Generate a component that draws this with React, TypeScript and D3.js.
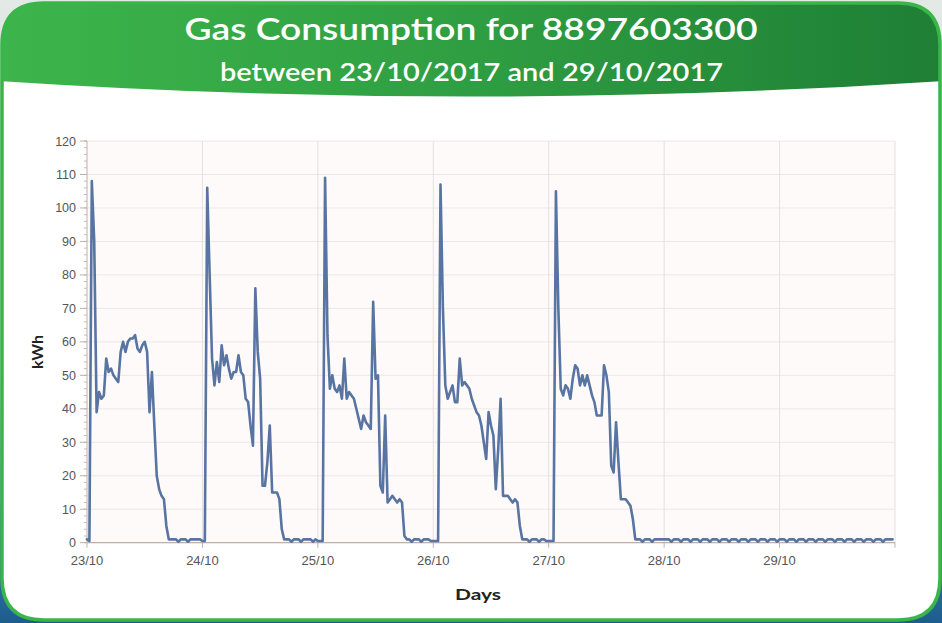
import React from "react";
import * as d3 from "d3";

const TITLE = "Gas Consumption for 8897603300";
const SUBTITLE = "between 23/10/2017 and 29/10/2017";
const DAY_LABELS = ["23/10", "24/10", "25/10", "26/10", "27/10", "28/10", "29/10"];
const Y_TICKS = [0, 10, 20, 30, 40, 50, 60, 70, 80, 90, 100, 110, 120];
const POINTS_PER_DAY = 48; // half-hourly readings

const day23 = [1, 0.5, 108, 90, 39, 45, 43, 44, 55, 51, 52, 50, 49, 48, 57, 60, 57, 60, 61, 61, 62, 58, 57, 59, 60, 57, 39, 51, 35, 20, 16, 14, 13, 5, 1, 1, 1, 1, 0.3, 1, 1, 1, 0.3, 1, 1, 1, 1, 1];
const day24 = [0.5, 0.5, 106, 80, 55, 47, 54, 48, 59, 53, 56, 52, 49, 51, 51, 56, 51, 50, 43, 42, 35, 29, 76, 57, 49, 17, 17, 24, 35, 15, 15, 15, 13, 4, 1, 1, 1, 0.3, 1, 1, 1, 0.3, 1, 1, 1, 1, 0.3, 1];
const day25 = [0.5, 0.5, 0.5, 109, 62, 46, 50, 46, 45, 47, 43, 55, 43, 45, 44, 43, 40, 37, 34, 38, 36, 35, 34, 72, 49, 50, 17, 15, 38, 12, 13, 14, 13, 12, 13, 12, 2, 1, 1, 0.3, 1, 1, 1, 0.3, 1, 1, 1, 0.5];
const day26 = [0.5, 0.5, 0.5, 107, 70, 47, 43, 45, 47, 42, 42, 55, 47, 48, 47, 46, 43, 41, 39, 38, 35, 30, 25, 39, 35, 32, 16, 28, 43, 14, 14, 14, 13, 12, 13, 12, 5, 1, 1, 1, 0.3, 1, 1, 1, 0.3, 1, 1, 0.5];
const day27 = [0.5, 0.5, 0.5, 105, 70, 46, 44, 47, 46, 43, 49, 53, 52, 47, 50, 47, 50, 47, 44, 42, 38, 38, 38, 53, 50, 45, 23, 21, 36, 24, 13, 13, 13, 12, 11, 7, 1, 1, 1, 0.3, 1, 1, 1, 0.3, 1, 1, 1, 1];
const day28 = [1, 1, 1, 0.3, 1, 1, 1, 0.3, 1, 1, 1, 0.3, 1, 1, 1, 0.3, 1, 1, 1, 0.3, 1, 1, 1, 0.3, 1, 1, 1, 0.3, 1, 1, 1, 0.3, 1, 1, 1, 0.3, 1, 1, 1, 0.3, 1, 1, 1, 0.3, 1, 1, 1, 0.3];
const day29 = [1, 1, 1, 0.3, 1, 1, 1, 0.3, 1, 1, 1, 0.3, 1, 1, 1, 0.3, 1, 1, 1, 0.3, 1, 1, 1, 0.3, 1, 1, 1, 0.3, 1, 1, 1, 0.3, 1, 1, 1, 0.3, 1, 1, 1, 0.3, 1, 1, 1, 0.3, 1, 1, 1, 1];

const series = [...day23, ...day24, ...day25, ...day26, ...day27, ...day28, ...day29];

const W = 942;
const H = 623;
const PLOT = { left: 87, right: 895, top: 141, bottom: 542.7 };

export default function App() {
  const x = d3.scaleLinear().domain([0, DAY_LABELS.length]).range([PLOT.left, PLOT.right]);
  const y = d3.scaleLinear().domain([0, 120]).range([PLOT.bottom, PLOT.top]);
  const line = d3
    .line<number>()
    .x((_, i) => x(i / POINTS_PER_DAY))
    .y((d) => y(d));
  const minorTicks = d3.range(0, 121, 2);
  const dayTicks = d3.range(0, DAY_LABELS.length + 1);

  const cardPath = (() => {
    const x0 = 2, y0 = 3, x1 = 940, y1 = 620, r = 42;
    return `M${x0 + r},${y0} H${x1 - r} Q${x1},${y0} ${x1},${y0 + r} V${y1 - r} Q${x1},${y1} ${x1 - r},${y1} H${x0 + r} Q${x0},${y1} ${x0},${y1 - r} V${y0 + r} Q${x0},${y0} ${x0 + r},${y0} Z`;
  })();

  return (
    <svg
      width={W}
      height={H}
      viewBox={`0 0 ${W} ${H}`}
      style={{ position: "absolute", left: 0, top: 0, display: "block" }}
    >
      <defs>
        <linearGradient id="bg" x1="0" y1="0" x2="0" y2="1">
          <stop offset="0" stopColor="#e3e9e4" />
          <stop offset="0.6" stopColor="#c9d6d2" />
          <stop offset="0.85" stopColor="#3d80ad" />
          <stop offset="1" stopColor="#1c5d8e" />
        </linearGradient>
        <linearGradient id="hdr" x1="0" y1="0" x2="1" y2="0">
          <stop offset="0" stopColor="#3db54b" />
          <stop offset="0.5" stopColor="#2f9e42" />
          <stop offset="1" stopColor="#1e7f35" />
        </linearGradient>
        <clipPath id="cardClip">
          <path d={cardPath} />
        </clipPath>
      </defs>

      <rect x={0} y={0} width={W} height={H} fill="url(#bg)" />
      <path d={cardPath} fill="#ffffff" />
      <g clipPath="url(#cardClip)">
        <path d={`M0,0 H${W} V81 Q${W / 2},112 0,81 Z`} fill="url(#hdr)" />
      </g>
      <path d={cardPath} fill="none" stroke="#3ab54a" strokeWidth={3.5} />

      <text
        x={W / 2}
        y={39.5}
        textAnchor="middle"
        fill="#ffffff"
        fontFamily="Lato, 'Open Sans', sans-serif"
        fontWeight={600}
        fontSize={30}
        textLength={573}
        lengthAdjust="spacingAndGlyphs"
      >
        {TITLE}
      </text>
      <text
        x={471.5}
        y={80.5}
        textAnchor="middle"
        fill="#ffffff"
        fontFamily="Lato, 'Open Sans', sans-serif"
        fontWeight={600}
        fontSize={25}
        textLength={503}
        lengthAdjust="spacingAndGlyphs"
      >
        {SUBTITLE}
      </text>

      {/* plot background */}
      <rect
        x={PLOT.left}
        y={PLOT.top}
        width={PLOT.right - PLOT.left}
        height={PLOT.bottom - PLOT.top}
        fill="#fefafa"
      />
      {/* horizontal grid */}
      {Y_TICKS.map((t) => (
        <line
          key={`hg${t}`}
          x1={PLOT.left}
          x2={PLOT.right}
          y1={y(t)}
          y2={y(t)}
          stroke="#ece8e8"
          strokeWidth={1}
        />
      ))}
      {/* vertical grid */}
      {dayTicks.slice(1).map((d) => (
        <line
          key={`vg${d}`}
          x1={x(d)}
          x2={x(d)}
          y1={PLOT.top}
          y2={PLOT.bottom}
          stroke="#e6e0e0"
          strokeWidth={1}
        />
      ))}

      {/* y axis */}
      <line x1={PLOT.left} x2={PLOT.left} y1={PLOT.top} y2={PLOT.bottom} stroke="#bfb0aa" strokeWidth={1} />
      {minorTicks.map((t) => (
        <line
          key={`mt${t}`}
          x1={PLOT.left - 3}
          x2={PLOT.left}
          y1={y(t)}
          y2={y(t)}
          stroke="#c8bab4"
          strokeWidth={1}
        />
      ))}
      {Y_TICKS.map((t) => (
        <g key={`yt${t}`}>
          <line x1={PLOT.left - 7} x2={PLOT.left} y1={y(t)} y2={y(t)} stroke="#bfb0aa" strokeWidth={1} />
          <text
            x={PLOT.left - 11}
            y={y(t) + 4.5}
            textAnchor="end"
            fill="#555555"
            fontFamily="Arial, 'Liberation Sans', sans-serif"
            fontSize={12.5}
          >
            {t}
          </text>
        </g>
      ))}

      {/* x axis */}
      <line x1={PLOT.left} x2={PLOT.right} y1={PLOT.bottom} y2={PLOT.bottom} stroke="#bfb0aa" strokeWidth={1.2} />
      {dayTicks.map((d) => (
        <line
          key={`xt${d}`}
          x1={x(d)}
          x2={x(d)}
          y1={PLOT.bottom}
          y2={PLOT.bottom + 5}
          stroke="#bfb0aa"
          strokeWidth={1}
        />
      ))}
      {DAY_LABELS.map((lab, i) => (
        <text
          key={lab}
          x={x(i)}
          y={565}
          textAnchor="middle"
          fill="#555555"
          fontFamily="Arial, 'Liberation Sans', sans-serif"
          fontSize={13}
        >
          {lab}
        </text>
      ))}

      {/* data line */}
      <path
        d={line(series) || ""}
        fill="none"
        stroke="#5874a2"
        strokeWidth={2.6}
        strokeLinejoin="round"
        strokeLinecap="round"
      />

      {/* axis titles */}
      <text
        transform={`translate(43,352) rotate(-90)`}
        textAnchor="middle"
        fill="#222222"
        fontFamily="Lato, 'Open Sans', sans-serif"
        fontWeight={700}
        fontSize={16}
      >
        kWh
      </text>
      <text
        x={478}
        y={600}
        textAnchor="middle"
        fill="#222222"
        fontFamily="Lato, 'Open Sans', sans-serif"
        fontWeight={700}
        fontSize={16}
        textLength={46}
        lengthAdjust="spacingAndGlyphs"
      >
        Days
      </text>
    </svg>
  );
}
